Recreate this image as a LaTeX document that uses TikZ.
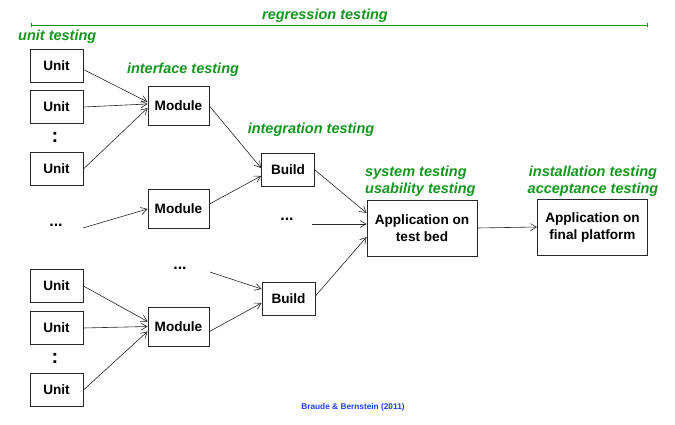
\documentclass[tikz,border=0pt]{standalone}
\usepackage{fontspec}
\setmainfont{Liberation Sans}
\usetikzlibrary{arrows.meta,calc}
\definecolor{lblgreen}{RGB}{20,150,30}
\definecolor{credblue}{RGB}{30,60,255}
\tikzset{
  box/.style={draw=black!85, line width=0.9pt, fill=white, font=\fontsize{13.6}{17}\selectfont\bfseries, inner sep=0pt, align=center},
  unitbox/.style={box, minimum width=53pt, minimum height=33pt},
  modbox/.style={box, minimum width=61pt, minimum height=39pt},
  appbox/.style={box, minimum width=110pt, minimum height=56pt},
  lbl/.style={text=lblgreen, font=\fontsize{14.5}{17}\selectfont\bfseries\itshape, inner sep=0pt, align=center},
  dotsnode/.style={font=\fontsize{16}{16}\selectfont\bfseries, inner sep=1pt},
  conn/.style={draw=black!85, line width=0.6pt, -{Straight Barb[length=6pt,width=7pt]}},
}
\begin{document}
\begin{tikzpicture}[x=1pt,y=-1pt]
\useasboundingbox (0,0) rectangle (675,425);
% regression line
\coordinate (rl) at (31,25);
\coordinate (rr) at (647,25);
\draw[lblgreen, line width=0.8pt] (rl) -- (rr);
\draw[lblgreen, line width=1pt] ($(rl)+(0,-2)$) -- ($(rl)+(0,2)$);
\draw[lblgreen, line width=1pt] ($(rr)+(0,-2)$) -- ($(rr)+(0,2)$);
\node[lbl] (lreg) at (325,16) {regression testing};
\node[lbl, anchor=west] (lunit) at (18,37) {unit testing};
\node[lbl] (lint) at (183,70) {interface testing};
\node[lbl] (linteg) at (311,130) {integration testing};
\node[lbl, align=left, anchor=west] (lsys) at (365,181) {system testing\\usability testing};
\node[lbl] (linst) at (593,181) {installation testing\\acceptance testing};

% units
\node[unitbox] (u1) at (56.5,65.5) {Unit};
\node[unitbox] (u2) at (56.5,107) {Unit};
\node[dotsnode] (d1) at (55,137) {\fontsize{20}{20}\selectfont :};
\node[unitbox] (u3) at (56.5,169) {Unit};
\node[unitbox] (u4) at (56.5,286) {Unit};
\node[unitbox] (u5) at (56.5,328) {Unit};
\node[dotsnode] (d2) at (55,358) {\fontsize{20}{20}\selectfont :};
\node[unitbox] (u6) at (56.5,390) {Unit};

% dots
\node[dotsnode] (e1) at (56,225) {...};
\node[dotsnode] (e2) at (287,219) {...};
\node[dotsnode] (e3) at (180,268) {...};

% modules
\node[modbox] (m1) at (178.5,106) {Module};
\node[modbox] (m2) at (178.5,209) {Module};
\node[modbox] (m3) at (178.5,326.5) {Module};

% builds
\node[unitbox] (b1) at (288,170) {Build};
\node[unitbox] (b2) at (288.5,299) {Build};

% applications
\node[appbox] (a1) at (422,228) {Application on\\test bed};
\node[appbox] (a2) at (592.5,227) {Application on\\final platform};

% connectors
\draw[conn] ([yshift=-4pt]u1.east) -- ([yshift=4pt]m1.west);
\draw[conn] (u2.east) -- ([yshift=2pt]m1.west);
\draw[conn] (u3.east) -- ([yshift=-2pt]m1.west);
\draw[conn] ([xshift=19pt,yshift=-3pt]e1.east) -- (m2.west);
\draw[conn] (m1.east) -- ([yshift=2pt]b1.west);
\draw[conn] ([yshift=5pt]m2.east) -- ([yshift=-6pt]b1.west);
\draw[conn] ([xshift=22pt,yshift=-4pt]e3.east) -- ([yshift=10pt]b2.west);
\draw[conn] ([yshift=-5pt]m3.east) -- ([yshift=-4pt]b2.west);
\draw[conn] (u4.east) -- ([yshift=5pt]m3.west);
\draw[conn] (u5.east) -- (m3.west);
\draw[conn] (u6.east) -- ([yshift=-5pt]m3.west);
\draw[conn] (b1.east) -- ([yshift=15pt]a1.west);
\draw[conn] ([xshift=17pt,yshift=-5pt]e2.east) -- ([yshift=4pt]a1.west);
\draw[conn] ([yshift=3pt]b2.east) -- ([yshift=-9pt]a1.west);
\draw[conn] (a1.east) -- (a2.west);

% credit
\node[text=credblue, font=\fontsize{8.3}{10}\selectfont\bfseries, inner sep=0pt] (cred) at (353,407) {Braude \& Bernstein (2011)};
\end{tikzpicture}
\end{document}
